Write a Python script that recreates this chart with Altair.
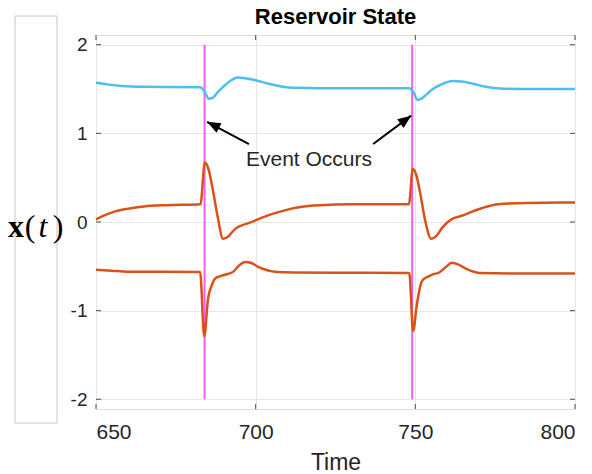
import altair as alt
import pandas as pd

# ---------------- data ----------------
t_blue = [650, 654, 658, 665, 682.6, 684.2, 685.3, 686.5, 688, 690, 692, 694.2, 697, 700, 704, 708, 712, 720,
          748.0, 749.5, 750.6, 751.8, 753.5, 755.5, 758, 761.8, 764.5, 768, 772, 776.6, 785, 800]
v_blue = [1.57, 1.55, 1.535, 1.525, 1.52, 1.46, 1.39, 1.40, 1.46, 1.53, 1.59, 1.63, 1.62, 1.60, 1.56, 1.53, 1.515, 1.51,
          1.51, 1.46, 1.38, 1.39, 1.44, 1.50, 1.55, 1.59, 1.585, 1.56, 1.525, 1.505, 1.50, 1.50]

t_mid = [650, 653, 656, 660, 665, 672, 682.7, 684.1, 685.2, 686.5, 688, 689.8, 691.5, 693.5, 695.5, 698, 702, 706,
         710, 714, 720, 730, 748.0, 749.2, 750.3, 751.5, 753, 755.0, 756.5, 758.5, 761.8, 764.5, 768, 772, 776, 785, 800]
v_mid = [0.03, 0.08, 0.12, 0.15, 0.175, 0.19, 0.20, 0.67, 0.60, 0.38, 0.08, -0.19, -0.16, -0.08, -0.04, -0.01, 0.05, 0.10,
         0.14, 0.17, 0.19, 0.20, 0.20, 0.60, 0.53, 0.33, 0.03, -0.19, -0.16, -0.06, 0.04, 0.07, 0.12, 0.17, 0.20, 0.215, 0.22]

t_low = [650, 655, 660, 682.6, 683.9, 685.1, 686.2, 687.3, 689, 691, 693, 694.8, 696.7, 698.5, 700.5, 702.4, 706.6, 712,
         748.1, 749.3, 750.4, 751.2, 752.2, 753.8, 755.5, 757.5, 759.5, 761.5, 763.5, 766, 770, 780, 800]
v_low = [-0.54, -0.55, -0.56, -0.565, -1.29, -0.86, -0.72, -0.64, -0.61, -0.59, -0.56, -0.49, -0.45, -0.46, -0.50, -0.53, -0.565, -0.57,
         -0.575, -1.23, -0.95, -0.78, -0.66, -0.62, -0.59, -0.57, -0.51, -0.46, -0.48, -0.53, -0.575, -0.58, -0.58]

series_names = ["x1", "x2", "x3"]
series_colors = ["#4DBEEE", "#D95319", "#D95319"]

event_times = [684, 749]
event_low = [-2, -2]
event_high = [2, 2]

x_ticks = [650, 700, 750, 800]
y_ticks = [-2, -1, 0, 1, 2]

arrow_tail_t = [697.9, 736.8]
arrow_tail_v = [0.88, 0.88]
arrow_tip_t = [684.8, 748.7]
arrow_tip_v = [1.13, 1.20]

note_text = ["Event Occurs"]
note_t = [716.7]
note_v = [0.635]

title_text = "Reservoir State"

# ---------------- tables ----------------
rows = []
for name, ts, vs in zip(series_names, [t_blue, t_mid, t_low], [v_blue, v_mid, v_low]):
    for t, v in zip(ts, vs):
        rows.append({"series": name, "t": t, "v": v})
curves = pd.DataFrame(rows)
events = pd.DataFrame({"t": event_times, "lo": event_low, "hi": event_high})
arrows = pd.DataFrame({"t0": arrow_tail_t, "v0": arrow_tail_v, "t1": arrow_tip_t, "v1": arrow_tip_v,
                       "ang": [297.6, 53.6]})
notes = pd.DataFrame({"label": note_text, "t": note_t, "v": note_v})
xt = pd.DataFrame({"t": x_ticks})
yt = pd.DataFrame({"v": y_ticks})
one = pd.DataFrame({"a": [0]})

W, H = 479, 374
FONT = "Liberation Sans"
TXT = "#262626"

xs = alt.Scale(domain=[650, 800], nice=False, zero=False)
ys = alt.Scale(domain=[-2.11, 2.11], nice=False, zero=False)

xaxis = alt.Axis(values=x_ticks, grid=True, gridColor="#E6E6E6", tickSize=0, domain=False,
                 labelExpr="toString(datum.value)",
                 labelFontSize=21, labelColor=TXT, labelPadding=12, labelFont=FONT,
                 title="Time", titleFontSize=23, titleFontWeight="normal", titleColor=TXT, titleFont=FONT,
                 titleY=60, titleBaseline="alphabetic")
yaxis = alt.Axis(values=y_ticks, grid=True, gridColor="#E6E6E6", tickSize=0, domain=False,
                 labelExpr="toString(datum.value)",
                 labelFontSize=19, labelColor=TXT, labelPadding=9, labelFont=FONT, title=None)


def X(field):
    return alt.X(field, scale=xs, axis=xaxis)


def Y(field):
    return alt.Y(field, scale=ys, axis=yaxis)


base = alt.Chart(curves).mark_line(strokeWidth=2.5, interpolate="monotone").encode(
    x=X("t:Q"),
    y=Y("v:Q"),
    color=alt.Color("series:N", scale=alt.Scale(domain=series_names, range=series_colors), legend=None),
    detail="series:N",
)

ev = alt.Chart(events).mark_rule(color="#FA5CFA", strokeWidth=2).encode(
    x=X("t:Q"), y=Y("lo:Q"), y2="hi:Q")

tick_style = dict(color="#4D4D4D", strokeWidth=1)
xt_bot = alt.Chart(xt).mark_rule(**tick_style).encode(x=X("t:Q"), y=alt.value(H), y2=alt.value(H - 5))
xt_top = alt.Chart(xt).mark_rule(**tick_style).encode(x=X("t:Q"), y=alt.value(0), y2=alt.value(5))
yt_l = alt.Chart(yt).mark_rule(**tick_style).encode(y=Y("v:Q"), x=alt.value(0), x2=alt.value(5))
yt_r = alt.Chart(yt).mark_rule(**tick_style).encode(y=Y("v:Q"), x=alt.value(W), x2=alt.value(W - 5))

arr_line = alt.Chart(arrows).mark_rule(color="black", strokeWidth=2).encode(
    x=X("t0:Q"), y=Y("v0:Q"), x2="t1:Q", y2="v1:Q")
arr_head = alt.Chart(arrows).mark_point(shape="M0,0L0.8,2L-0.8,2Z", filled=True, color="black",
                                        opacity=1, size=180).encode(
    x=X("t1:Q"), y=Y("v1:Q"), angle=alt.Angle("ang:Q", scale=None))

note = alt.Chart(notes).mark_text(fontSize=21, font=FONT, color=TXT, baseline="alphabetic", align="center").encode(
    x=X("t:Q"), y=Y("v:Q"), text="label:N")

title = alt.Chart(one).mark_text(text=title_text, font=FONT, fontSize=22, fontWeight="bold", color="black",
                                 baseline="alphabetic", align="center").encode(x=alt.value(W / 2), y=alt.value(-11))

box = alt.Chart(one).mark_rect(fill=None, stroke="#C8C8C8", strokeWidth=1).encode(
    x=alt.value(-81), x2=alt.value(-39), y=alt.value(-19), y2=alt.value(388))

SERIF = "Liberation Serif"
lab_x = alt.Chart(one).mark_text(text="x", font=SERIF, fontSize=32, fontWeight="bold", color="black",
                                 baseline="alphabetic", align="center").encode(x=alt.value(-80), y=alt.value(202))
lab_p1 = alt.Chart(one).mark_text(text="(", font=SERIF, fontSize=32, color="black",
                                  baseline="alphabetic", align="center").encode(x=alt.value(-66), y=alt.value(202))
lab_t = alt.Chart(one).mark_text(text="t", font=SERIF, fontSize=32, fontStyle="italic", color="black",
                                 baseline="alphabetic", align="center").encode(x=alt.value(-53), y=alt.value(202))
lab_p2 = alt.Chart(one).mark_text(text=")", font=SERIF, fontSize=32, color="black",
                                  baseline="alphabetic", align="center").encode(x=alt.value(-38), y=alt.value(202))

chart = alt.layer(
    ev, base, xt_bot, xt_top, yt_l, yt_r, arr_line, arr_head, note,
    title, box, lab_x, lab_p1, lab_t, lab_p2,
).properties(
    width=W, height=H,
    padding={"left": 96, "top": 35, "right": 17, "bottom": 65},
    autosize=alt.AutoSizeParams(type="none"),
).configure_view(stroke="#4D4D4D", strokeWidth=1).configure(background="white")

chart.save("out.html", embed_options={"renderer": "svg", "actions": False})
